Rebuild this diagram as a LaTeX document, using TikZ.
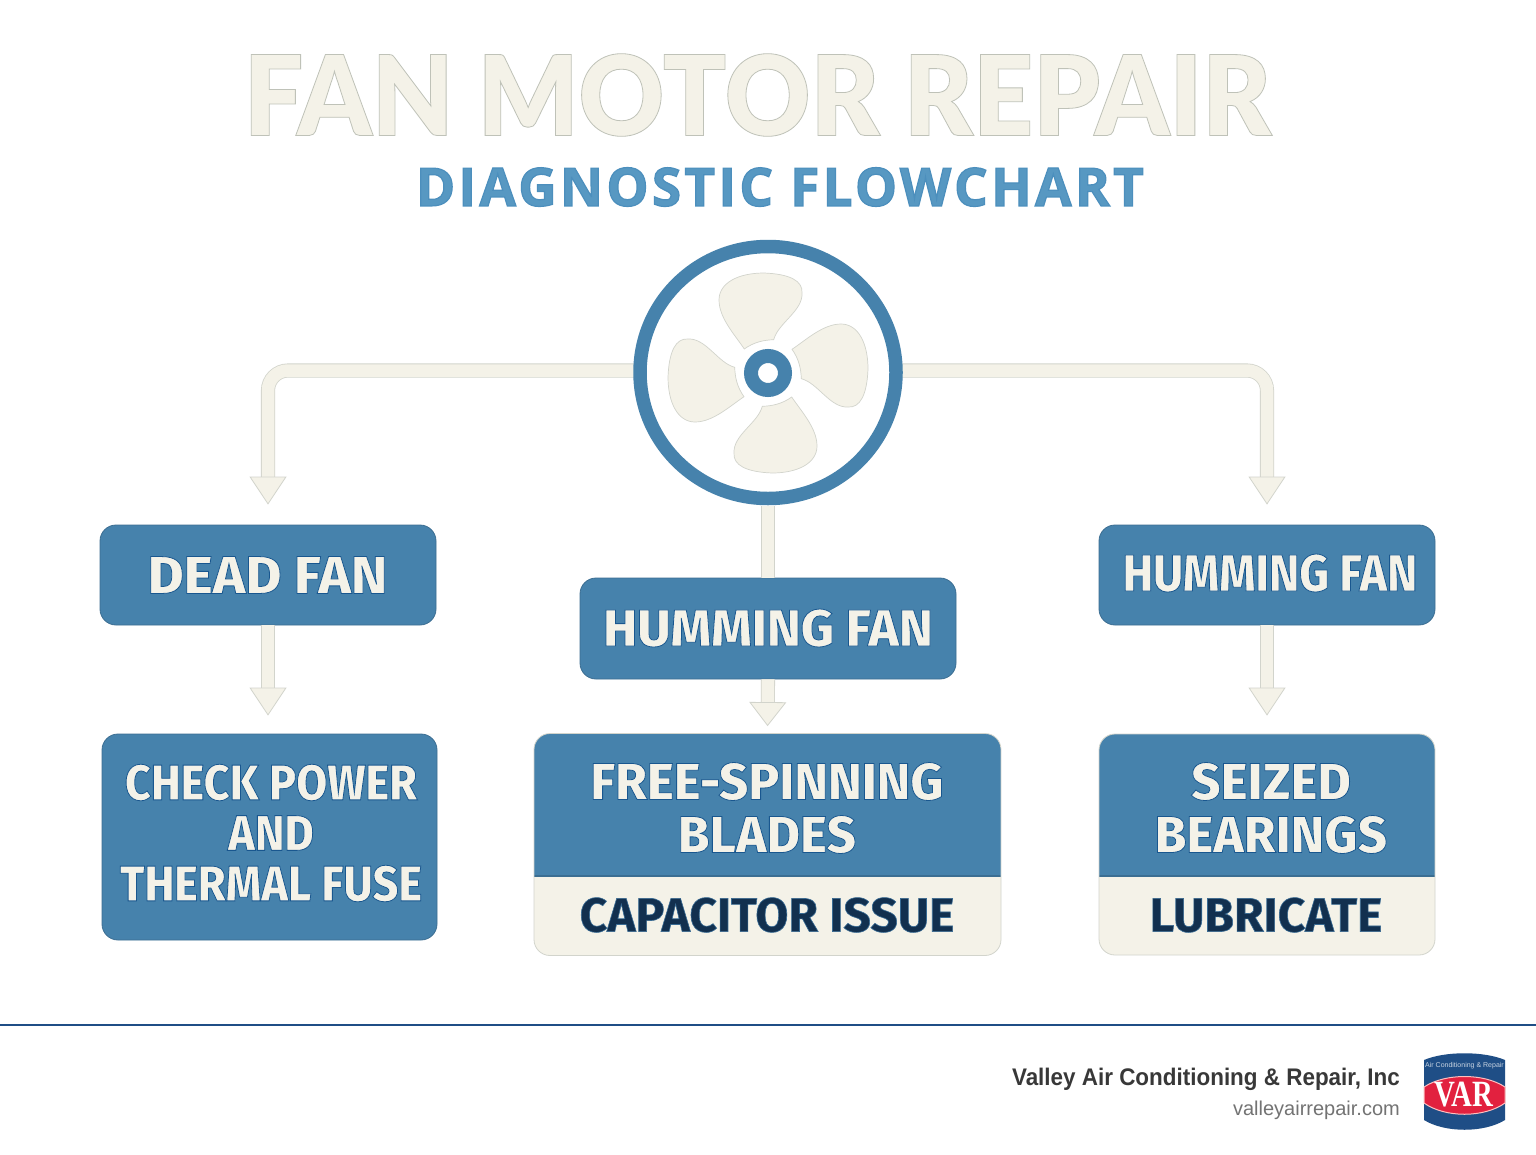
\documentclass[tikz,border=0pt]{standalone}
\usepackage{fontspec}
\usetikzlibrary{arrows.meta}
\setmainfont{Fira Sans}
\newfontfamily\titlefont{Lato Black}[FakeStretch=0.947]
\newfontfamily\subfont{Open Sans}[LetterSpace=6.3]
\newfontfamily\footfont{Liberation Sans}
\newfontfamily\footbold{Liberation Sans Bold}[FakeStretch=0.935]
\newfontfamily\logofont{Liberation Serif Bold}[FakeStretch=0.78]
\definecolor{boxblue}{HTML}{4682AC}
\definecolor{subblue}{HTML}{5798C2}
\definecolor{cream}{HTML}{F4F2E8}
\definecolor{edge}{HTML}{D2D4CC}
\definecolor{navy}{HTML}{12304F}
\definecolor{rule}{HTML}{1F4E86}
\definecolor{logored}{HTML}{E2213F}
\newcommand{\stroked}[3]{\special{pdf:code #1 RG #2 w 2 Tr}#3\special{pdf:code 0 Tr}}
\newcommand{\lightletters}[1]{\stroked{0.10 0.34 0.56}{0.8}{#1}}
\newcommand{\darkletters}[1]{\stroked{0.22 0.42 0.58}{0.6}{#1}}
\newcommand{\lblfont}[3]{\fontspec{Fira Sans ExtraBold}[FakeStretch=#3]\fontsize{#1}{#2}\selectfont}
\newcommand{\botfont}[3]{\fontspec{Fira Sans Bold}[FakeStretch=#3]\fontsize{#1}{#2}\selectfont}
\tikzset{
  flowbox/.style={draw=boxblue!85!black,fill=boxblue,rounded corners=16pt,line width=0.8pt,inner sep=0pt},
  splitbox/.style={draw=edge,fill=cream,rounded corners=16pt,line width=0.8pt,inner sep=0pt},
  boxtext/.style={text=cream,align=center,inner sep=0pt},
  pipe/.style={draw=edge,line width=0.8pt,double=cream,double distance=12.5pt,rounded corners=20pt},
  tip/.style={-{Triangle[length=#1,width=37pt,fill=cream,color=edge,line width=0.8pt]}},
  tip/.default=28pt,
  splittop/.style={path picture={
    \fill[boxblue,sharp corners] (path picture bounding box.north west) rectangle ([yshift=-31.5pt]path picture bounding box.east);
    \draw[boxblue!85!black,line width=1.5pt,sharp corners] ([yshift=-31.5pt]path picture bounding box.west) -- ([yshift=-31.5pt]path picture bounding box.east);}},
}
\begin{document}
\begin{tikzpicture}[x=1pt,y=-1pt]
	\useasboundingbox (0,0) rectangle (1536,1154);
	\fill[white] (0,0) rectangle (1536,1154);
	
	%%%%% heading %%%%%
	\node[text=cream,font=\titlefont\fontsize{111}{111}\selectfont] (title) at (757.5,95) {\stroked{0.75 0.76 0.72}{0.8}{FAN MOTOR REPAIR}};
	\node[text=subblue,font=\subfont\bfseries\fontsize{53}{53}\selectfont] (subtitle) at (780,187) {\stroked{0.30 0.56 0.74}{1.2}{DIAGNOSTIC FLOWCHART}};
	
	%%%%% boxes %%%%%
	\node[flowbox,minimum width=336pt,minimum height=100pt] (dead) at (268,575) {};
	\node[flowbox,minimum width=376pt,minimum height=101pt] (hummid) at (768,628.5) {};
	\node[flowbox,minimum width=336pt,minimum height=100pt] (humright) at (1267,575) {};
	\node[flowbox,minimum width=335pt,minimum height=206pt] (check) at (269.5,837) {};
	\node[splitbox,splittop,minimum width=467pt,minimum height=222pt] (free) at (767.5,844.5) {};
	\node[splitbox,splittop,minimum width=336pt,minimum height=221pt] (seized) at (1267,844.5) {};
	
	%%%%% box texts %%%%%
	\node[boxtext,font=\lblfont{53}{53}{1.04}] (deadtext) at (267.5,575) {\lightletters{DEAD FAN}};
	\node[boxtext,font=\lblfont{52}{52}{0.99}] (hummidtext) at (768,628) {\lightletters{HUMMING FAN}};
	\node[boxtext,font=\lblfont{52}{52}{0.885}] (humrighttext) at (1270,573) {\lightletters{HUMMING FAN}};
	\node[boxtext,font=\lblfont{50}{50.5}{0.9}] (checktext) at (271,833) {\lightletters{CHECK POWER\\AND\\THERMAL FUSE}};
	\node[boxtext,font=\lblfont{52}{53}{0.985}] (freetext) at (767,808) {\lightletters{FREE-SPINNING\\BLADES}};
	\node[boxtext,font=\lblfont{52}{53}{0.985}] (seizedtext) at (1271,808) {\lightletters{SEIZED\\BEARINGS}};
	\node[boxtext,text=navy,font=\botfont{48}{48}{1}] (capacitor) at (767,915) {\darkletters{CAPACITOR ISSUE}};
	\node[boxtext,text=navy,font=\botfont{48}{48}{1}] (lubricate) at (1266,915) {\darkletters{LUBRICATE}};
	
	%%%%% connectors %%%%%
	\node[circle,minimum size=254pt,inner sep=0pt,outer sep=6.75pt] (fan) at (768,372.5) {};
	\draw[pipe,tip,shorten >=20pt] ([yshift=2pt]fan.west) -| (dead.north);
	\draw[pipe,tip,shorten >=20pt] ([yshift=2pt]fan.east) -| (humright.north);
	\draw[pipe] (fan.south) -- (hummid.north);
	\draw[pipe,tip,shorten >=18pt] (dead.south) -- (dead.south |- check.north);
	\draw[pipe,tip=24pt,shorten >=7pt] (hummid.south) -- (free.north);
	\draw[pipe,tip,shorten >=18pt] (humright.south) -- (seized.north);
	
	%%%%% fan %%%%%
	\draw[boxblue,line width=13.5pt] (fan.center) ellipse (128pt and 126pt);
	\foreach \blade in {0,90,180,270}{
		\draw[fill=cream,draw=edge,line width=0.7pt,shift={(768,373)},rotate=-\blade]
			(-23.7,-24) .. controls (-14,-31) and (-4,-33) .. (5.7,-33.3)
			.. controls (10,-50) and (35,-62) .. (34,-80)
			.. controls (35,-92) and (22,-99) .. (-4,-100)
			.. controls (-30,-100) and (-49,-90) .. (-49,-73)
			.. controls (-49,-55) and (-33,-38) .. (-23.7,-24) -- cycle;
	}
	\node[circle,draw=boxblue,line width=14pt,minimum size=34pt,inner sep=0pt] (hub) at (768,373) {};
	
	%%%%% footer %%%%%
	\draw[rule,line width=2.5pt] (0,1025) -- (1536,1025);
	\node[anchor=east,inner sep=0pt,text=black!78,font=\footbold\fontsize{24}{24}\selectfont] (company) at (1400,1079) {Valley Air Conditioning \& Repair, Inc};
	\node[anchor=east,inner sep=0pt,text=black!55,font=\footfont\fontsize{20}{20}\selectfont] (web) at (1400,1110) {valleyairrepair.com};
	
	%%%%% logo %%%%%
	\fill[rule] (1424,1060) .. controls (1445,1051) and (1484,1051) .. (1505,1060) -- (1505,1120) .. controls (1484,1133) and (1445,1133) .. (1424,1120) -- cycle;
	\draw[fill=logored,draw=red!25,line width=1pt] (1424,1087) .. controls (1445,1073) and (1484,1073) .. (1505,1087) -- (1505,1103) .. controls (1484,1118) and (1445,1118) .. (1424,1103) -- cycle;
	\node[text=white,inner sep=0pt,font=\logofont\fontsize{37}{37}\selectfont] (var) at (1464,1095) {VAR};
	\node[text=white!75!rule,inner sep=0pt,font=\footfont\fontsize{7}{7}\selectfont] (ring) at (1464.5,1066) {Air Conditioning \& Repair};
\end{tikzpicture}
\end{document}
